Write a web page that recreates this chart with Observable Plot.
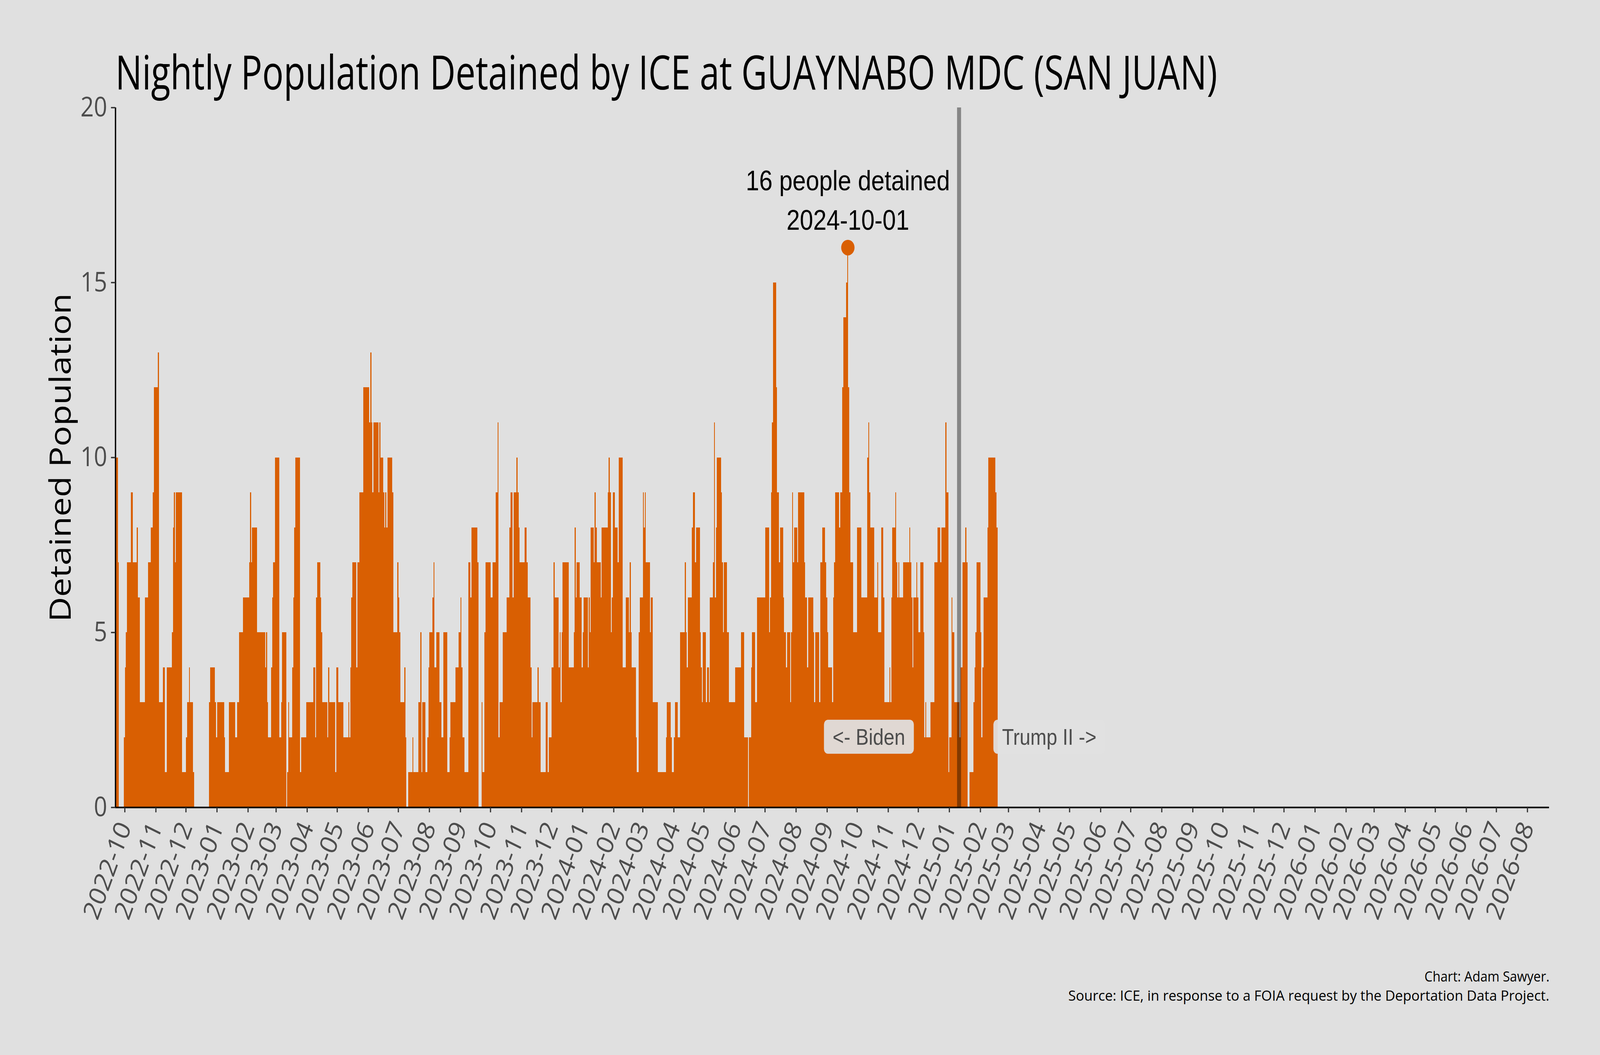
<!DOCTYPE html>
<html>
<head>
<meta charset="utf-8">
<script src="https://cdn.jsdelivr.net/npm/d3@7"></script>
<script src="https://cdn.jsdelivr.net/npm/@observablehq/plot@0.6"></script>
<style>
  html, body { margin: 0; padding: 0; background: #e0e0e0; width: 100%; height: 100%; overflow: hidden; }
  #viewport { position: absolute; left: 0; top: 0; width: 100vw; height: 100vh; overflow: hidden; background: #e0e0e0; }
  #wrap { position: absolute; left: 0; top: 0; width: 4800px; height: 2700px; background: #e0e0e0; overflow: hidden;
          font-family: "Open Sans", sans-serif; transform-origin: 0 0; }
  .line { position: absolute; display: inline-block; white-space: nowrap; }
  #title { left: 346px; top: 123px; font-size: 120px; line-height: 120px; color: #000; transform-origin: left top; }
  .cap { right: 152px; font-size: 37px; line-height: 37px; color: #000; transform-origin: right top; }
  #chart { position: absolute; left: 0; top: 240px; }
</style>
</head>
<body>
<div id="viewport">
<div id="wrap">
  <div id="title" class="line"></div>
  <div id="chart"></div>
  <div id="cap1" class="line cap" style="top:2479px"></div>
  <div id="cap2" class="line cap" style="top:2528px"></div>
</div>
</div>
<script>
// ---------- data (nightly detained population, one value per night from startDate) ----------
const startDate = "2022-10-01";
// FY2023: Oct 2022 – Sep 2023
const fy2023 = [
  10,10,10,7,0,0,0,0,0,2,4,5,7,7,7,7,9,9,7,7,7,7,8,6,6,3,3,3,3,3,6,
  6,6,7,7,7,8,8,9,12,12,12,12,13,3,3,3,3,4,4,1,1,4,4,4,4,4,5,8,9,7,
  9,9,9,9,9,9,1,1,1,1,2,3,3,4,3,3,3,1,0,0,0,0,0,0,0,0,0,0,0,0,0,
  0,0,3,4,4,4,4,4,3,2,3,3,3,3,3,3,3,2,1,1,1,1,3,3,3,3,3,3,2,2,3,
  3,5,5,5,5,6,6,6,6,6,6,7,9,7,8,8,8,8,8,5,5,5,5,5,5,5,5,4,
  5,3,2,2,2,4,6,7,7,10,10,10,10,2,2,3,5,5,5,5,0,1,3,2,2,2,4,6,8,10,10,
  10,10,10,1,2,2,2,2,2,3,3,3,3,3,3,3,4,4,2,6,7,7,7,6,5,3,3,3,3,3,
  2,4,3,3,3,3,3,3,1,4,4,3,3,3,3,3,2,2,2,2,2,3,2,4,6,7,7,7,7,4,7,
  7,9,9,9,9,12,12,12,12,12,12,11,13,11,9,11,11,11,11,11,9,11,10,10,10,9,8,9,8,10,
  10,10,10,10,9,5,5,5,5,7,6,5,3,3,3,3,4,2,0,0,1,1,1,1,2,1,1,1,1,1,3,
  3,5,1,3,3,3,1,1,2,4,5,5,5,6,7,4,4,5,5,5,3,3,2,2,5,5,5,5,1,1,2,
  3,3,3,3,3,4,4,4,5,5,6,4,2,2,1,1,1,1,7,7,6,8,8,8,8,8,8,7,0,0
];
// FY2024: Oct 2023 – Sep 2024
const fy2024 = [
  0,3,1,1,5,7,7,7,7,7,6,6,7,7,7,9,9,11,2,3,3,3,5,5,5,5,6,6,6,8,9,
  9,6,9,9,9,10,9,8,7,7,7,7,7,8,8,7,6,6,6,4,2,3,3,3,3,3,4,3,3,1,
  1,1,1,1,3,3,1,2,2,2,4,4,7,6,6,6,6,4,5,3,5,7,7,7,7,7,7,4,4,4,4,
  4,5,8,6,7,7,7,6,6,4,5,6,6,6,6,4,6,5,8,8,8,7,9,8,7,7,7,7,6,8,8,
  8,8,8,8,9,10,9,5,6,9,9,8,8,8,7,10,10,10,10,4,4,4,6,6,6,5,7,5,4,
  4,4,4,2,1,1,5,6,6,6,9,8,9,7,7,7,7,5,6,6,3,3,3,3,3,1,1,1,1,1,1,
  1,1,2,3,3,3,3,2,1,1,2,3,3,3,2,2,5,5,5,5,5,7,5,4,6,6,6,6,8,9,
  9,7,8,8,8,8,5,4,3,5,5,5,3,4,4,3,6,6,6,7,11,6,8,10,10,10,10,9,7,5,7,
  7,7,5,5,3,3,3,3,3,3,4,4,4,4,4,4,5,5,5,2,2,2,2,0,2,2,4,5,5,5,
  3,3,6,6,6,6,6,6,6,6,8,8,8,8,5,6,9,11,15,15,15,12,9,9,7,8,8,8,6,5,5,
  4,5,5,5,3,5,9,7,8,8,8,7,9,9,9,9,9,9,7,6,6,4,6,6,6,6,6,5,3,5,5,
  5,5,3,7,7,8,8,8,7,6,5,4,4,4,4,3,6,7,9,9,9,9,8,9,9,12,14,14,14,15
];
// FY2025: Oct 2024 – Feb 2025
const fy2025 = [
  16,12,9,7,7,7,5,5,5,5,8,8,8,8,6,6,6,6,6,6,10,11,9,8,8,8,8,6,6,6,7,
  5,5,5,8,8,6,3,3,3,3,3,4,3,6,8,8,8,9,7,6,7,6,6,6,6,7,7,7,7,7,
  7,8,7,6,4,6,6,6,7,6,5,5,7,7,7,5,2,3,2,2,2,2,3,3,3,3,7,7,7,8,8,
  8,7,8,8,8,8,11,9,9,1,2,2,6,5,5,3,3,3,3,3,2,4,4,7,7,7,8,7,0,0,1,
  1,1,1,3,4,5,7,7,7,7,5,2,4,6,6,6,6,8,10,10,10,10,10,10,10,9,8
];
const yTicks = [0, 5, 10, 15, 20];
const yDomain = [0, 20];
const xDomain = ["2022-10-01", "2026-09-01"];
const inauguration = "2025-01-20";
const eraLabels = ["<- Biden", "Trump II ->"];
const eraLabelDates = ["2024-10-22", "2025-04-20"];
const eraLabelY = 2;
const titleText = "Nightly Population Detained by ICE at GUAYNABO MDC (SAN JUAN)";
const yLabel = "Detained Population";
const captionLines = ["Chart: Adam Sawyer.", "Source: ICE, in response to a FOIA request by the Deportation Data Project."];
const barColor = "#d95f02";

// ---------- build ----------
const parse = s => new Date(s + "T00:00:00Z");
const values = [...fy2023, ...fy2024, ...fy2025];
const t0 = parse(startDate);
const rows = values.map((v, i) => ({date: d3.utcDay.offset(t0, i), value: v}));
const peak = d3.greatest(rows, d => d.value);
const fmtDay = d3.utcFormat("%Y-%m-%d");

const chart = Plot.plot({
  width: 4800,
  height: 2180,
  marginTop: 35,
  marginBottom: 354,
  marginLeft: 346,
  marginRight: 153,
  style: {background: "transparent", fontFamily: "'Open Sans', sans-serif", overflow: "visible", maxWidth: "none"},
  x: {type: "utc", domain: xDomain.map(parse)},
  y: {domain: yDomain},
  marks: [
    Plot.rectY(rows, {
      x1: d => d3.utcHour.offset(d.date, -12),
      x2: d => d3.utcHour.offset(d.date, 12),
      y: "value", fill: barColor, clip: true, shapeRendering: "crispEdges"
    }),
    Plot.ruleX([parse(inauguration)], {y1: yDomain[0], y2: yDomain[1], stroke: "black", strokeOpacity: 0.4, strokeWidth: 12}),
    Plot.dot([peak], {x: "date", y: "value", r: 20, fill: barColor, stroke: null}),
    Plot.text([peak], {x: "date", y: "value", text: d => `${d.value} people detained`, dy: -170,
      fontFamily: "'Liberation Sans', Arial, sans-serif", fontSize: 72, fill: "black"}),
    Plot.text([peak], {x: "date", y: "value", text: d => fmtDay(d.date), dy: -69,
      fontFamily: "'Liberation Sans', Arial, sans-serif", fontSize: 72, fill: "black"}),
    Plot.text(eraLabels, {x: (d, i) => parse(eraLabelDates[i]), y: () => eraLabelY, text: d => d,
      fontFamily: "'Liberation Sans', Arial, sans-serif", fontSize: 58, fill: "#4d4d4d"}),
    Plot.ruleY([0], {stroke: "black", strokeWidth: 4}),
    Plot.ruleX([parse(xDomain[0])], {y1: yDomain[0], y2: yDomain[1], stroke: "black", strokeWidth: 4}),
    Plot.axisY({ticks: yTicks, tickSize: 13, tickPadding: 12, fontSize: 70, fill: "#4d4d4d",
      stroke: "#333333", strokeWidth: 3.5, label: null}),
    Plot.axisX({ticks: d3.utcMonth.range(parse(xDomain[0]), parse(xDomain[1])), tickFormat: d3.utcFormat("%Y-%m"),
      tickSize: 13, tickPadding: 28, dx: 28, tickRotate: -67, fontSize: 70, fill: "#4d4d4d",
      stroke: "#333333", strokeWidth: 3.5, label: null}),
    Plot.text([yLabel], {frameAnchor: "left", textAnchor: "middle", dx: -162, rotate: -90, fontSize: 88, fill: "black"})
  ]
});
document.getElementById("chart").appendChild(chart);

// rounded label boxes behind the era labels
chart.querySelectorAll("text").forEach(t => {
  if (!eraLabels.includes(t.textContent)) return;
  const b = t.getBBox();
  const padX = 26, padY = 11;
  const r = document.createElementNS("http://www.w3.org/2000/svg", "rect");
  r.setAttribute("x", b.x - padX);
  r.setAttribute("y", b.y - padY);
  r.setAttribute("width", b.width + 2 * padX);
  r.setAttribute("height", b.height + 2 * padY);
  r.setAttribute("rx", 12);
  r.setAttribute("fill", "#e0e0e0");
  r.setAttribute("fill-opacity", 0.94);
  if (t.getAttribute("transform")) r.setAttribute("transform", t.getAttribute("transform"));
  t.parentNode.insertBefore(r, t);
});

// title and caption (HTML text, horizontally fitted to the reference widths)
function place(id, text, targetWidth) {
  const el = document.getElementById(id);
  el.textContent = text;
  const w = el.getBoundingClientRect().width;
  el.style.transform = `scaleX(${targetWidth / w})`;
}
place("title", titleText, 3306);
place("cap1", captionLines[0], 375);
place("cap2", captionLines[1], 1443);

// map the 4800×2700 layout onto the whole viewport the browser actually gives
const kx = window.innerWidth / 4800, ky = window.innerHeight / 2700;
document.getElementById("wrap").style.transform = `scale(${kx}, ${ky})`;
</script>
</body>
</html>
